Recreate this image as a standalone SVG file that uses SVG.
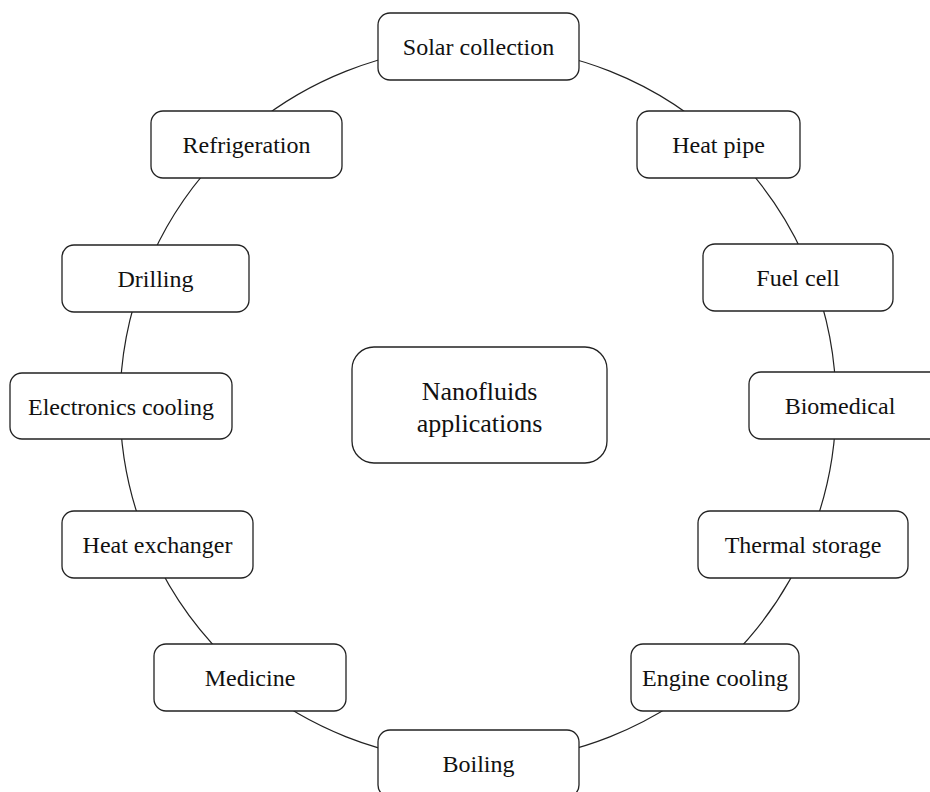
<svg xmlns="http://www.w3.org/2000/svg" width="930" height="792" viewBox="0 0 930 792">
<style>
.box{fill:#fff;stroke:#222;stroke-width:1.3}
.t{font-family:"Liberation Serif","Times New Roman",serif;font-size:24px;fill:#111;text-anchor:middle}
.tc{font-size:26px}
.conn{fill:none;stroke:#222;stroke-width:1.2}
</style>
<rect width="930" height="792" fill="#fff"/>
<g id="connectors">
<circle class="conn" cx="478" cy="404" r="358"/>
</g>
<g id="center"><rect class="box" x="352" y="347" width="255" height="116" rx="22"/><text class="t tc" x="479.5" y="400">Nanofluids</text><text class="t tc" x="479.5" y="432">applications</text></g>
<g id="solar"><rect class="box" x="378" y="13" width="201" height="67" rx="12"/><text class="t" x="478.5" y="55">Solar collection</text></g>
<g id="heatpipe"><rect class="box" x="637" y="111" width="163" height="67" rx="12"/><text class="t" x="718.5" y="153">Heat pipe</text></g>
<g id="fuelcell"><rect class="box" x="703" y="244" width="190" height="67" rx="12"/><text class="t" x="798" y="286">Fuel cell</text></g>
<g id="biomedical"><rect class="box" x="749" y="372" width="200" height="67" rx="12"/><text class="t" x="840" y="414">Biomedical</text></g>
<g id="thermal"><rect class="box" x="698" y="511" width="210" height="67" rx="12"/><text class="t" x="803" y="553">Thermal storage</text></g>
<g id="engine"><rect class="box" x="631" y="644" width="168" height="67" rx="12"/><text class="t" x="715" y="686">Engine cooling</text></g>
<g id="boiling"><rect class="box" x="378" y="730" width="201" height="67" rx="12"/><text class="t" x="478.5" y="772">Boiling</text></g>
<g id="medicine"><rect class="box" x="154" y="644" width="192" height="67" rx="12"/><text class="t" x="250" y="686">Medicine</text></g>
<g id="heatexchanger"><rect class="box" x="62" y="511" width="191" height="67" rx="12"/><text class="t" x="157.5" y="553">Heat exchanger</text></g>
<g id="electronics"><rect class="box" x="10" y="373" width="222" height="66" rx="12"/><text class="t" x="121" y="414.5">Electronics cooling</text></g>
<g id="drilling"><rect class="box" x="62" y="245" width="187" height="67" rx="12"/><text class="t" x="155.5" y="287">Drilling</text></g>
<g id="refrigeration"><rect class="box" x="151" y="111" width="191" height="67" rx="12"/><text class="t" x="246.5" y="153">Refrigeration</text></g>
</svg>
